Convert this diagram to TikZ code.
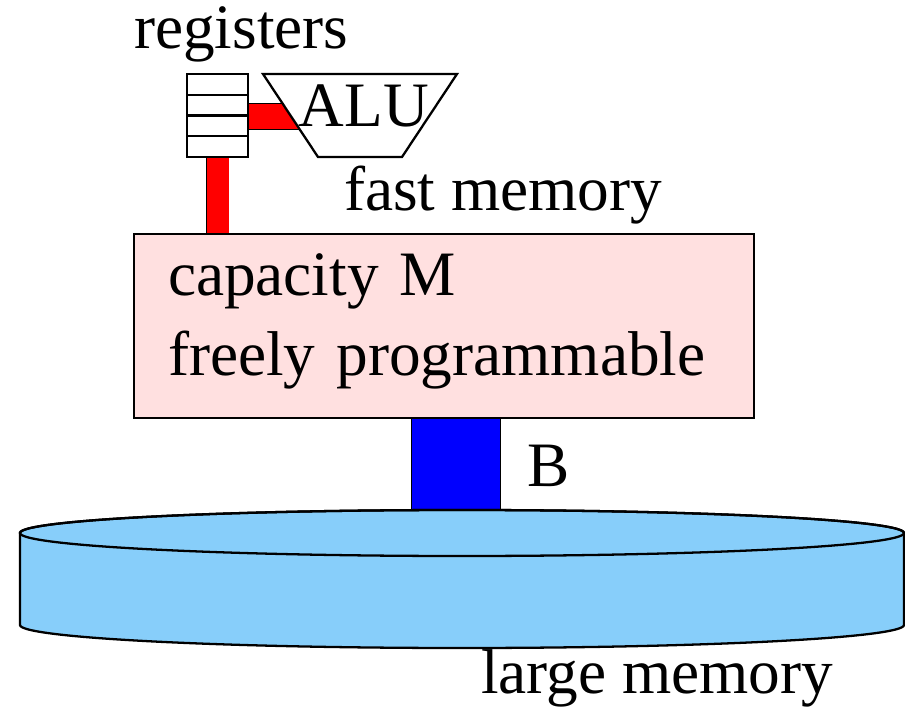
\documentclass[tikz,border=0pt]{standalone}
\usepackage{fontspec}
\setmainfont{Liberation Serif}
\usetikzlibrary{positioning}
\definecolor{Rose}{HTML}{FFE0E0}
\definecolor{Sky}{HTML}{87CEFA}
\pgfdeclarelayer{bg}
\pgfsetlayers{bg,main}

\begin{document}
\begin{tikzpicture}[x=1cm,y=1cm,line width=1.3pt,
  every node/.style={font=\fontsize{36}{45.5}\selectfont},
  reg/.style={draw,fill=white,minimum width=1.22cm,minimum height=.415cm,inner sep=0pt},
  bus/.style 2 args={double=#1,double distance=#2},
  lbl/.style={anchor=base west,inner sep=0pt}]
\useasboundingbox(0,0)rectangle(18.1,14.14);
% large memory
\filldraw[fill=Sky](.4,3.48)--(.4,1.64)arc[start angle=180,end angle=360,x radius=8.84,y radius=.46]--(18.08,3.48)arc[start angle=0,end angle=180,x radius=8.84,y radius=.46]--cycle;
\draw(9.24,3.48)ellipse[x radius=8.84,y radius=.46];
\coordinate(disk)at(9.24,3.94);
\node[lbl](big)at(9.6,.28){large memory};
% fast memory
\node[draw,fill=Rose,minimum width=12.4cm,minimum height=3.68cm,text width=11.04cm,align=left,inner xsep=.68cm,inner ysep=0pt,text height=.64cm](mem)at(8.88,7.62){capacity M\\freely programmable};
\node[lbl](fast)at(6.86,9.92){fast memory};
\node[lbl](bw)at(10.52,4.4){B};
% registers, ALU
\foreach \i in {1,...,4}
\node[reg](r\i)at(4.35,{12.8675-.415*\i}){};
\node[lbl](regs)at(2.66,13.16){registers};
\draw[fill=white](5.26,12.66)--(9.14,12.66)--(8.04,11)--(6.36,11)--cycle;
\node(alu)at(7.28,12.02){ALU};
\begin{pgfonlayer}{bg}
\draw[bus={red}{.44cm}](r4.south)--(r4.south|-mem.north);
\draw[bus={red}{.5cm}](r2.south east)--(r2.south east-|alu.center);
\draw[bus={blue}{1.76cm}]([xshift=.24cm]mem.south)--([xshift=.24cm]mem.south|-disk);
\end{pgfonlayer}
\end{tikzpicture}
\end{document}
